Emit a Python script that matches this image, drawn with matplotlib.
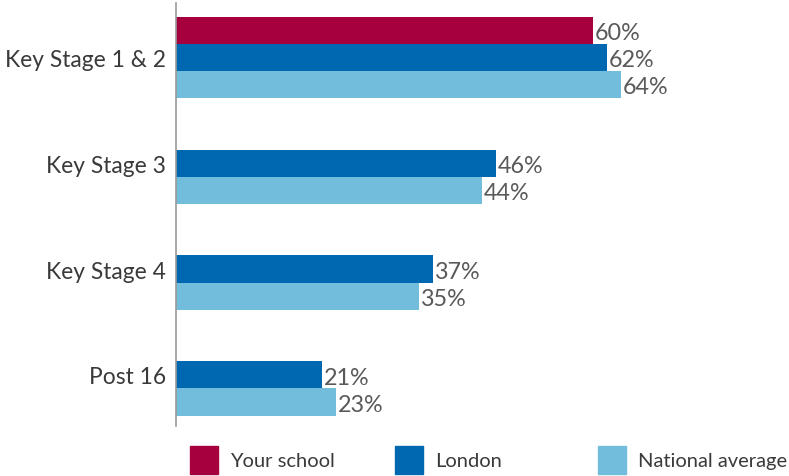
import numpy as np
import matplotlib as mpl
mpl.use("Agg")
import matplotlib.pyplot as plt
from matplotlib.patches import Rectangle

plt.rcParams["font.family"] = ["Lato", "DejaVu Sans"]

stages = ["Key Stage 1 & 2", "Key Stage 3", "Key Stage 4", "Post 16"]
series_names = ["Your school", "London", "National average"]
your_school = [60, np.nan, np.nan, np.nan]
london = [62, 46, 37, 21]
national = [64, 44, 35, 23]
colors = ["#A6003F", "#0067B1", "#71BDDB"]

W, H = 789, 477
fig = plt.figure(figsize=(W / 100, H / 100), dpi=100)
ax = fig.add_axes([176 / W, 1 - 427 / H, (W - 176) / W, 423 / H])

h = 0.257
y = np.arange(len(stages))
offsets = [-h, 0, h]
for vals, off, col in zip([your_school, london, national], offsets, colors):
    vals = np.asarray(vals, dtype=float)
    ok = ~np.isnan(vals)
    ax.barh(y[ok] + off, vals[ok], height=h, color=col, edgecolor="none")
    for yy, v in zip(y[ok] + off, vals[ok]):
        ax.text(v + 0.3, yy + 0.02, f"{v:.0f}%", va="center", ha="left",
                fontsize=16.8, color="#595959")

ax.set_xlim(0, (W - 176) / 6.95)
ax.set_ylim(3.483, -0.515)
ax.set_yticks(y)
ax.set_yticklabels(stages, fontsize=16.4, color="#3a3a3a")
ax.tick_params(axis="y", length=0, pad=7)
ax.set_xticks([])
for s in ["top", "right", "bottom"]:
    ax.spines[s].set_visible(False)
ax.spines["left"].set_color("#999999")
ax.spines["left"].set_linewidth(1.2)

# legend row along the bottom
legend_x = [190, 395, 598]
for lx, name, col in zip(legend_x, series_names, colors):
    fig.patches.append(Rectangle((lx / W, 1 - 475 / H), 28 / W, 28 / H,
                                 transform=fig.transFigure, color=col))
    fig.text((lx + 40) / W, 1 - 462 / H, name, va="center", ha="left",
             fontsize=14.5, color="#3a3a3a")

fig.savefig("out.png", dpi=100)
